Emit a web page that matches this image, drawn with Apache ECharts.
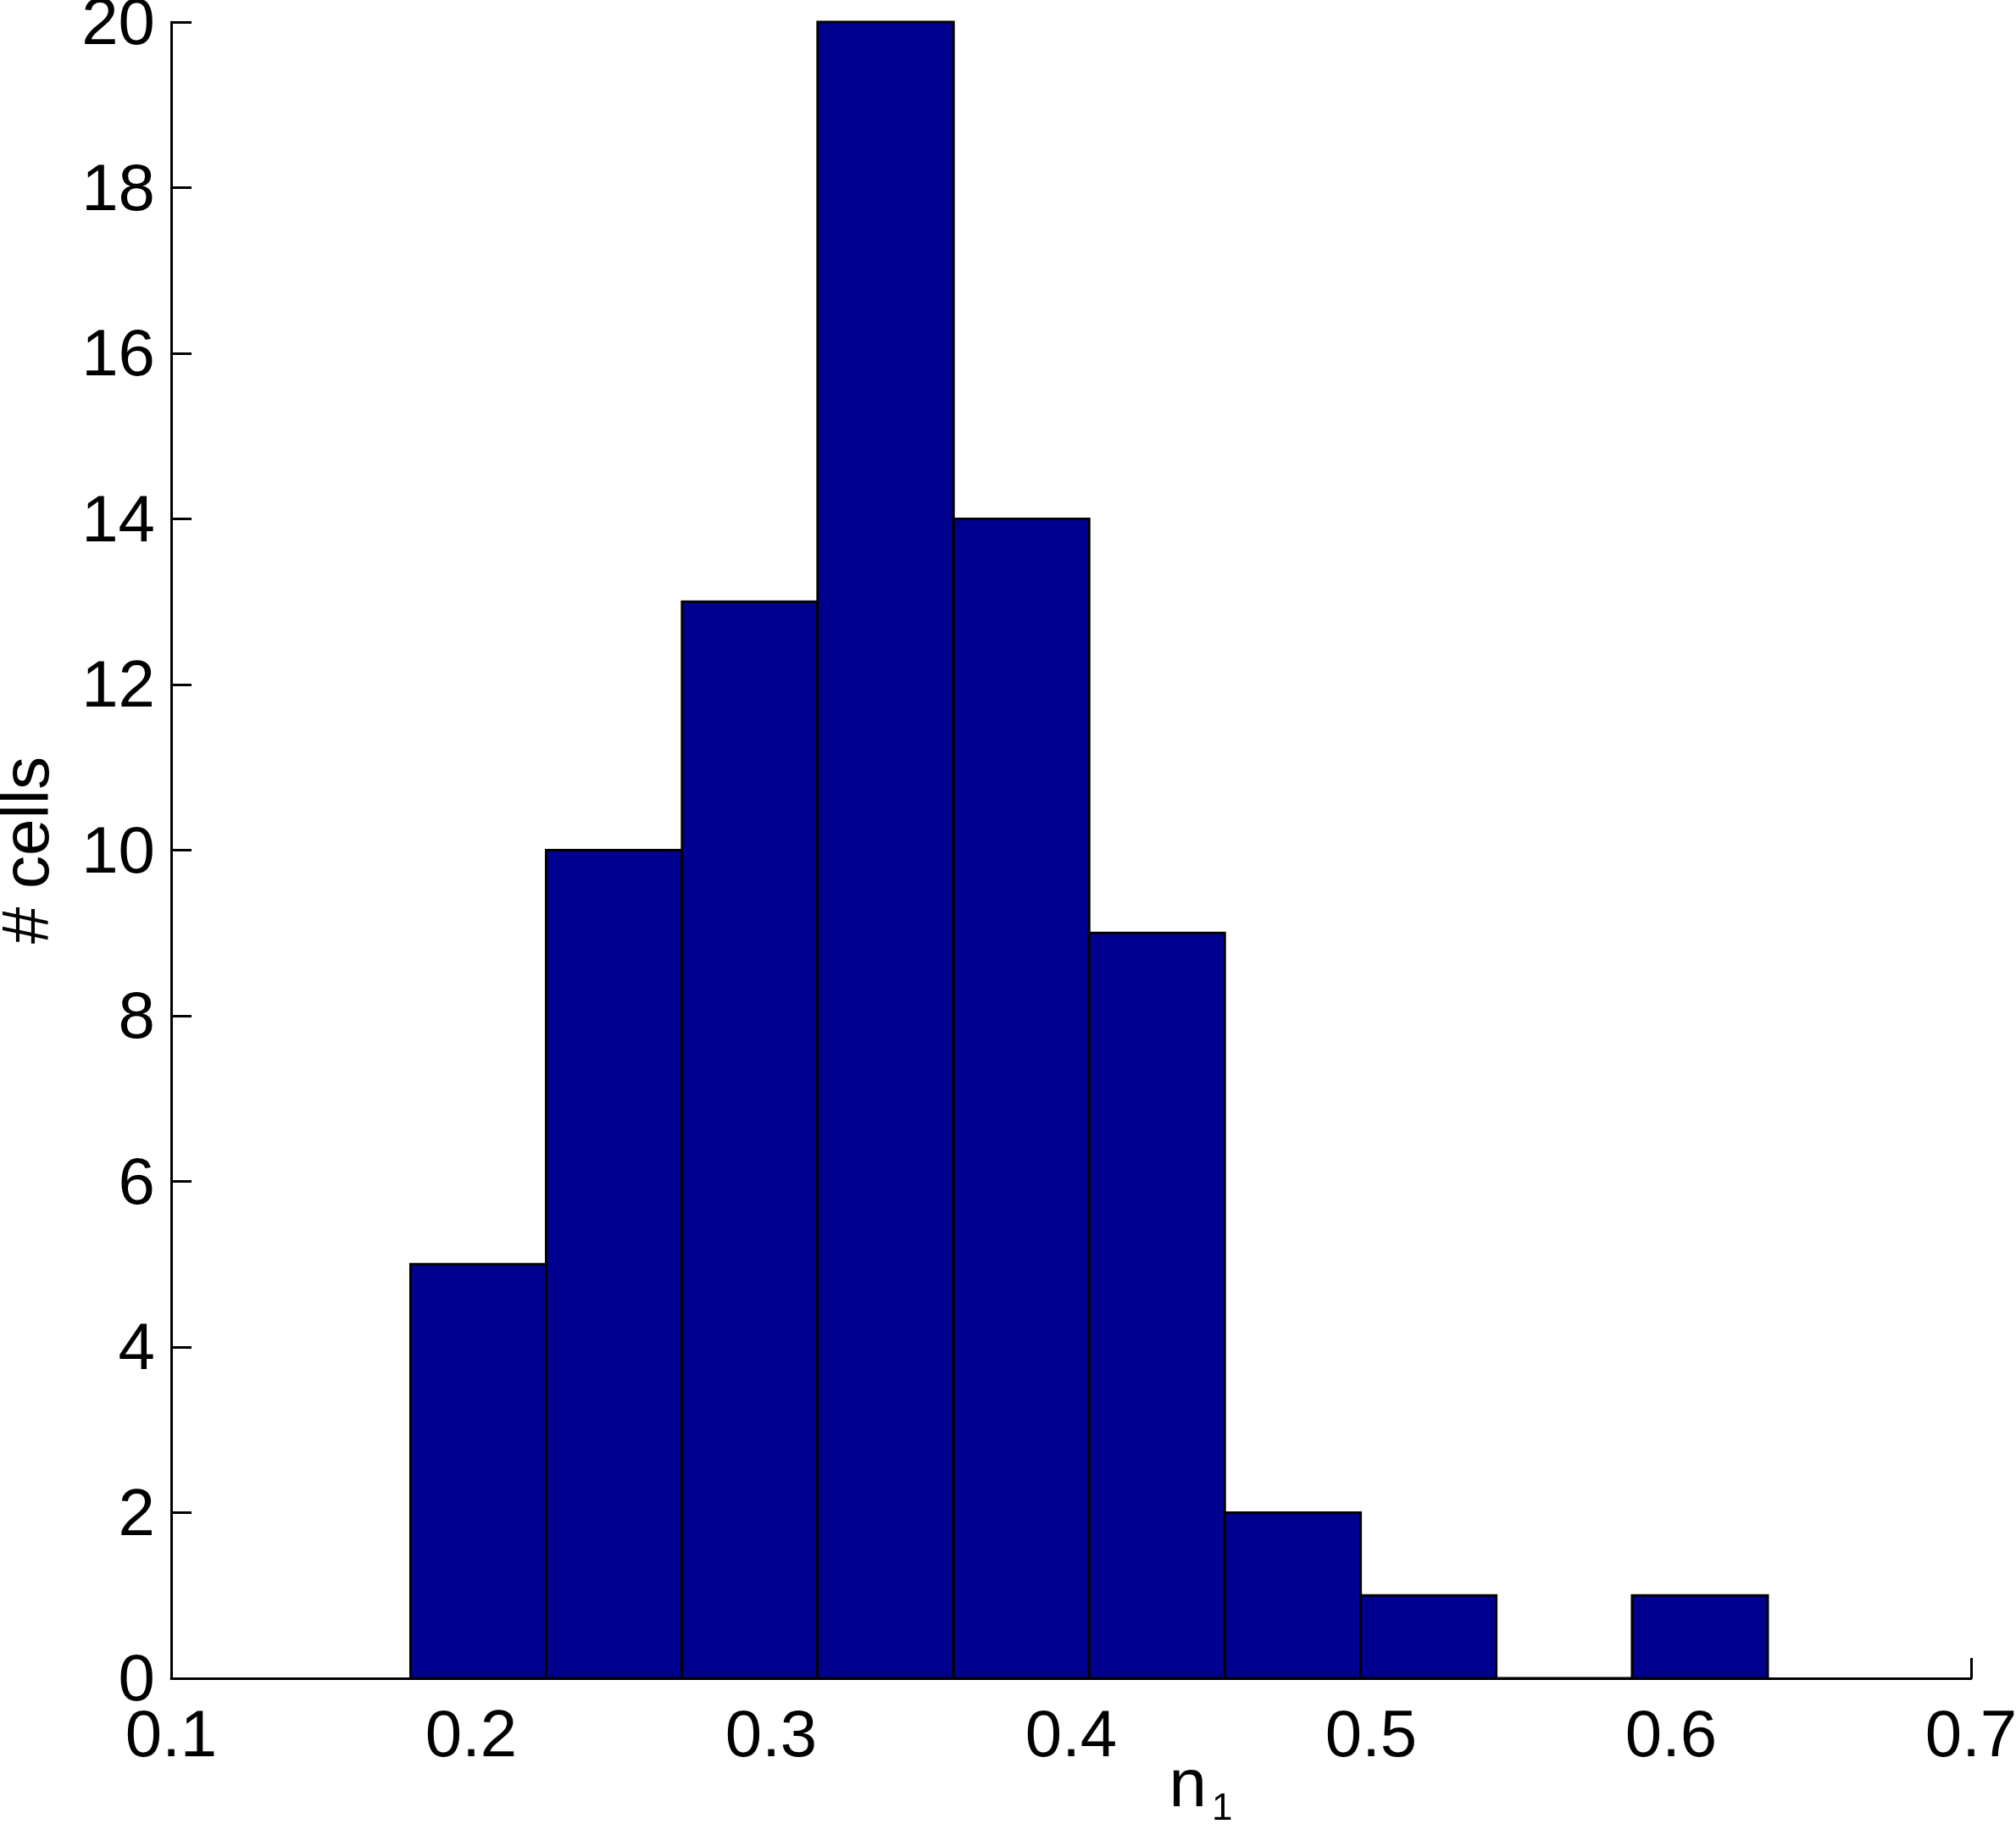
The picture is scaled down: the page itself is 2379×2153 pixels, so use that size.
<!DOCTYPE html>
<html>
<head>
<meta charset="utf-8">
<title>n1 histogram</title>
<script src="https://cdn.jsdelivr.net/npm/echarts@6/dist/echarts.min.js"></script>
<style>
  html, body { margin: 0; padding: 0; background: #fff; }
  #chart { width: 2379px; height: 2153px; }
</style>
</head>
<body>
<div id="chart"></div>
<script>
// histogram bins (edges) and counts per bin
const binEdges = [0.1798, 0.2250, 0.2703, 0.3155, 0.3608, 0.4060, 0.4512, 0.4965, 0.5417, 0.5870, 0.6322]
const counts = [5, 10, 13, 20, 14, 9, 2, 1, 0, 1]
const xTicks = [0.1, 0.2, 0.3, 0.4, 0.5, 0.6, 0.7]
const yTicks = [0, 2, 4, 6, 8, 10, 12, 14, 16, 18, 20]

const FONT = '"Liberation Sans", Arial, Helvetica, sans-serif'

const bins = counts.map((c, i) => [binEdges[i], binEdges[i + 1], c])

const chart = echarts.init(document.getElementById('chart'))

chart.setOption({
  animation: false,
  backgroundColor: '#fff',
  grid: {
    left: 202,
    right: 53,
    top: 26,
    bottom: 172,
    containLabel: false,
    outerBoundsMode: 'none'
  },
  xAxis: {
    type: 'value',
    min: xTicks[0],
    max: xTicks[xTicks.length - 1],
    interval: 0.1,
    name: '{n|n}{s|1}',
    nameLocation: 'middle',
    nameGap: 81,
    nameMoveOverlap: false,
    nameTextStyle: {
      padding: [0, 0, 0, 306],
      rich: {
        n: { fontSize: 80, fontFamily: FONT, color: '#000' },
        s: { fontSize: 44, fontFamily: FONT, color: '#000', padding: [52, 0, 0, 6] }
      }
    },
    axisLine: { show: true, lineStyle: { color: '#000', width: 3 } },
    axisTick: { show: true, inside: true, length: 24, lineStyle: { color: '#000', width: 3 } },
    axisLabel: {
      margin: 31,
      fontSize: 78,
      fontFamily: FONT,
      color: '#000',
      formatter: v => v.toFixed(1)
    },
    splitLine: { show: false }
  },
  yAxis: {
    type: 'value',
    min: yTicks[0],
    max: yTicks[yTicks.length - 1],
    interval: 2,
    name: '# cells',
    nameLocation: 'middle',
    nameRotate: 90,
    nameGap: 128,
    nameMoveOverlap: false,
    nameTextStyle: { fontSize: 78, fontFamily: FONT, color: '#000' },
    axisLine: { show: true, lineStyle: { color: '#000', width: 3 } },
    axisTick: { show: true, inside: true, length: 24, lineStyle: { color: '#000', width: 3 } },
    axisLabel: {
      margin: 19,
      formatter: v => '{t|' + v + '}',
      rich: {
        t: { fontSize: 78, fontFamily: FONT, color: '#000', padding: [9, 0, 0, 0] }
      }
    },
    splitLine: { show: false }
  },
  series: [
    {
      type: 'custom',
      data: bins,
      encode: { x: [0, 1], y: 2 },
      renderItem: (params, api) => {
        const p0 = api.coord([api.value(0), 0])
        const p1 = api.coord([api.value(1), api.value(2)])
        return {
          type: 'rect',
          shape: { x: p0[0], y: p1[1], width: p1[0] - p0[0], height: p0[1] - p1[1] },
          style: { fill: '#00008f', stroke: '#000', lineWidth: 3 }
        }
      }
    }
  ]
})
</script>
</body>
</html>
